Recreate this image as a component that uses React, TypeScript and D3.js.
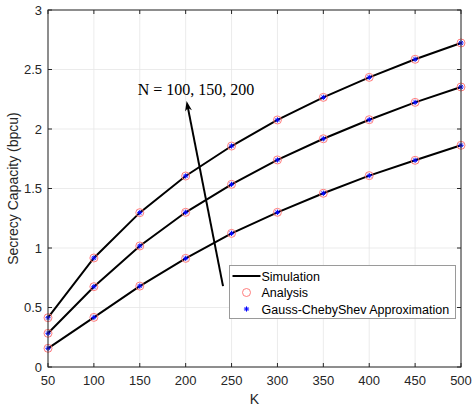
import React from "react";
import * as d3 from "d3";

const K = [50, 100, 150, 200, 250, 300, 350, 400, 450, 500];
const simN100 = [0.157, 0.417, 0.68, 0.913, 1.123, 1.3, 1.46, 1.608, 1.737, 1.863];
const simN150 = [0.283, 0.675, 1.017, 1.3, 1.535, 1.74, 1.918, 2.078, 2.224, 2.353];
const simN200 = [0.414, 0.916, 1.297, 1.605, 1.857, 2.076, 2.266, 2.434, 2.586, 2.723];
const anaN100 = [0.157, 0.417, 0.68, 0.913, 1.123, 1.3, 1.46, 1.608, 1.737, 1.863];
const anaN150 = [0.283, 0.675, 1.017, 1.3, 1.535, 1.74, 1.918, 2.078, 2.224, 2.353];
const anaN200 = [0.414, 0.916, 1.297, 1.605, 1.857, 2.076, 2.266, 2.434, 2.586, 2.723];
const gcN100 = [0.157, 0.417, 0.68, 0.913, 1.123, 1.3, 1.46, 1.608, 1.737, 1.863];
const gcN150 = [0.283, 0.675, 1.017, 1.3, 1.535, 1.74, 1.918, 2.078, 2.224, 2.353];
const gcN200 = [0.414, 0.916, 1.297, 1.605, 1.857, 2.076, 2.266, 2.434, 2.586, 2.723];

const xTicks = [50, 100, 150, 200, 250, 300, 350, 400, 450, 500];
const yTicks = [0, 0.5, 1, 1.5, 2, 2.5, 3];
const legendLabels = ["Simulation", "Analysis", "Gauss-ChebyShev Approximation"];
const annotationText = "N = 100, 150, 200";
const arrowFrom = [240.7, 0.68];
const arrowTo = [201, 2.235];
const textAt = [147.7, 2.286];

const W = 472, H = 412;
const left = 48, right = 461, top = 10, bottom = 367;
const AX = "#262626";

export default function App() {
  const x = d3.scaleLinear().domain([50, 500]).range([left, right]);
  const y = d3.scaleLinear().domain([0, 3]).range([bottom, top]);
  const line = d3.line<number>().x((_, i) => x(K[i])).y((d) => y(d));
  const sims = [simN100, simN150, simN200];
  const anas = [anaN100, anaN150, anaN200];
  const gcs = [gcN100, gcN150, gcN200];

  const star = (cx: number, cy: number, r: number, key: string) => (
    <g key={key} stroke="#0000ff" strokeWidth={1}>
      <line x1={cx - r} y1={cy} x2={cx + r} y2={cy} />
      <line x1={cx} y1={cy - r} x2={cx} y2={cy + r} />
      <line x1={cx - r * 0.7} y1={cy - r * 0.7} x2={cx + r * 0.7} y2={cy + r * 0.7} />
      <line x1={cx - r * 0.7} y1={cy + r * 0.7} x2={cx + r * 0.7} y2={cy - r * 0.7} />
    </g>
  );

  const ax0 = x(arrowFrom[0]), ay0 = y(arrowFrom[1]);
  const ax1 = x(arrowTo[0]), ay1 = y(arrowTo[1]);
  const ang = Math.atan2(ay1 - ay0, ax1 - ax0);
  const hl = 10, hw = 3.5;
  const ux = Math.cos(ang), uy = Math.sin(ang);
  const px = -uy, py = ux;
  const head = [
    [ax1, ay1],
    [ax1 - ux * hl + px * hw, ay1 - uy * hl + py * hw],
    [ax1 - ux * hl * 0.7, ay1 - uy * hl * 0.7],
    [ax1 - ux * hl - px * hw, ay1 - uy * hl - py * hw],
  ];

  const lx = 229.5, ly = 265.5, lw = 226, lh = 53;

  return (
    <svg width={W} height={H} style={{ position: "absolute", left: 0, top: 0, background: "#fff" }}
      fontFamily="'Liberation Sans', Arial, Helvetica, sans-serif">
      <rect x={0} y={0} width={W} height={H} fill="#fff" />
      {/* grid */}
      <g stroke="#e6e6e6" strokeWidth={0.8}>
        {xTicks.map((t) => (
          <line key={"gx" + t} x1={x(t)} x2={x(t)} y1={top} y2={bottom} />
        ))}
        {yTicks.map((t) => (
          <line key={"gy" + t} x1={left} x2={right} y1={y(t)} y2={y(t)} />
        ))}
      </g>
      {/* lines */}
      {sims.map((s, i) => (
        <path key={"s" + i} d={line(s) || ""} fill="none" stroke="#000" strokeWidth={2} />
      ))}
      {/* analysis markers */}
      {anas.map((s, i) =>
        s.map((v, j) => (
          <circle key={"a" + i + "-" + j} cx={x(K[j])} cy={y(v)} r={4} fill="none" stroke="#ff6f6f" strokeWidth={0.9} />
        ))
      )}
      {gcs.map((s, i) => s.map((v, j) => star(x(K[j]), y(v), 2.6, "g" + i + "-" + j)))}
      {/* arrow */}
      <line x1={ax0} y1={ay0} x2={ax1 - ux * hl * 0.7} y2={ay1 - uy * hl * 0.7} stroke="#000" strokeWidth={2} />
      <polygon points={head.map((p) => p.join(",")).join(" ")} fill="#000" />
      <text x={x(textAt[0])} y={y(textAt[1])} fontFamily="'Liberation Serif', 'Times New Roman', serif" fontSize={16} fill="#000">
        {annotationText}
      </text>
      {/* axes box */}
      <rect x={left} y={top} width={right - left} height={bottom - top} fill="none" stroke={AX} strokeWidth={1} />
      <g stroke={AX} strokeWidth={1}>
        {xTicks.map((t) => (
          <g key={"tx" + t}>
            <line x1={x(t)} x2={x(t)} y1={bottom} y2={bottom - 4} />
            <line x1={x(t)} x2={x(t)} y1={top} y2={top + 4} />
          </g>
        ))}
        {yTicks.map((t) => (
          <g key={"ty" + t}>
            <line x1={left} x2={left + 4} y1={y(t)} y2={y(t)} />
            <line x1={right} x2={right - 4} y1={y(t)} y2={y(t)} />
          </g>
        ))}
      </g>
      <g fill={AX} fontSize={13}>
        {xTicks.map((t) => (
          <text key={"lx" + t} x={x(t)} y={bottom + 18} textAnchor="middle">{t}</text>
        ))}
        {yTicks.map((t) => (
          <text key={"ly" + t} x={left - 6} y={y(t) + 4.5} textAnchor="end">{t}</text>
        ))}
      </g>
      <text x={(left + right) / 2} y={404} textAnchor="middle" fontSize={14} fill={AX}>K</text>
      <text transform={`translate(18,${(top + bottom) / 2}) rotate(-90)`} textAnchor="middle" fontSize={14} fill={AX}>
        Secrecy Capacity (bpcu)
      </text>
      {/* legend */}
      <rect x={lx} y={ly} width={lw} height={lh} fill="#fff" stroke="#9a9a9a" strokeWidth={1} />
      <line x1={lx + 3} x2={lx + 31} y1={ly + 10.5} y2={ly + 10.5} stroke="#000" strokeWidth={2} />
      <circle cx={lx + 17} cy={ly + 27} r={4} fill="none" stroke="#ff6f6f" strokeWidth={0.9} />
      {star(lx + 17, ly + 43.5, 2.6, "legstar")}
      <g fontSize={12.5} fill="#000">
        {legendLabels.map((l, i) => (
          <text key={l} x={lx + 32} y={ly + 15 + i * 16.6}>{l}</text>
        ))}
      </g>
    </svg>
  );
}
